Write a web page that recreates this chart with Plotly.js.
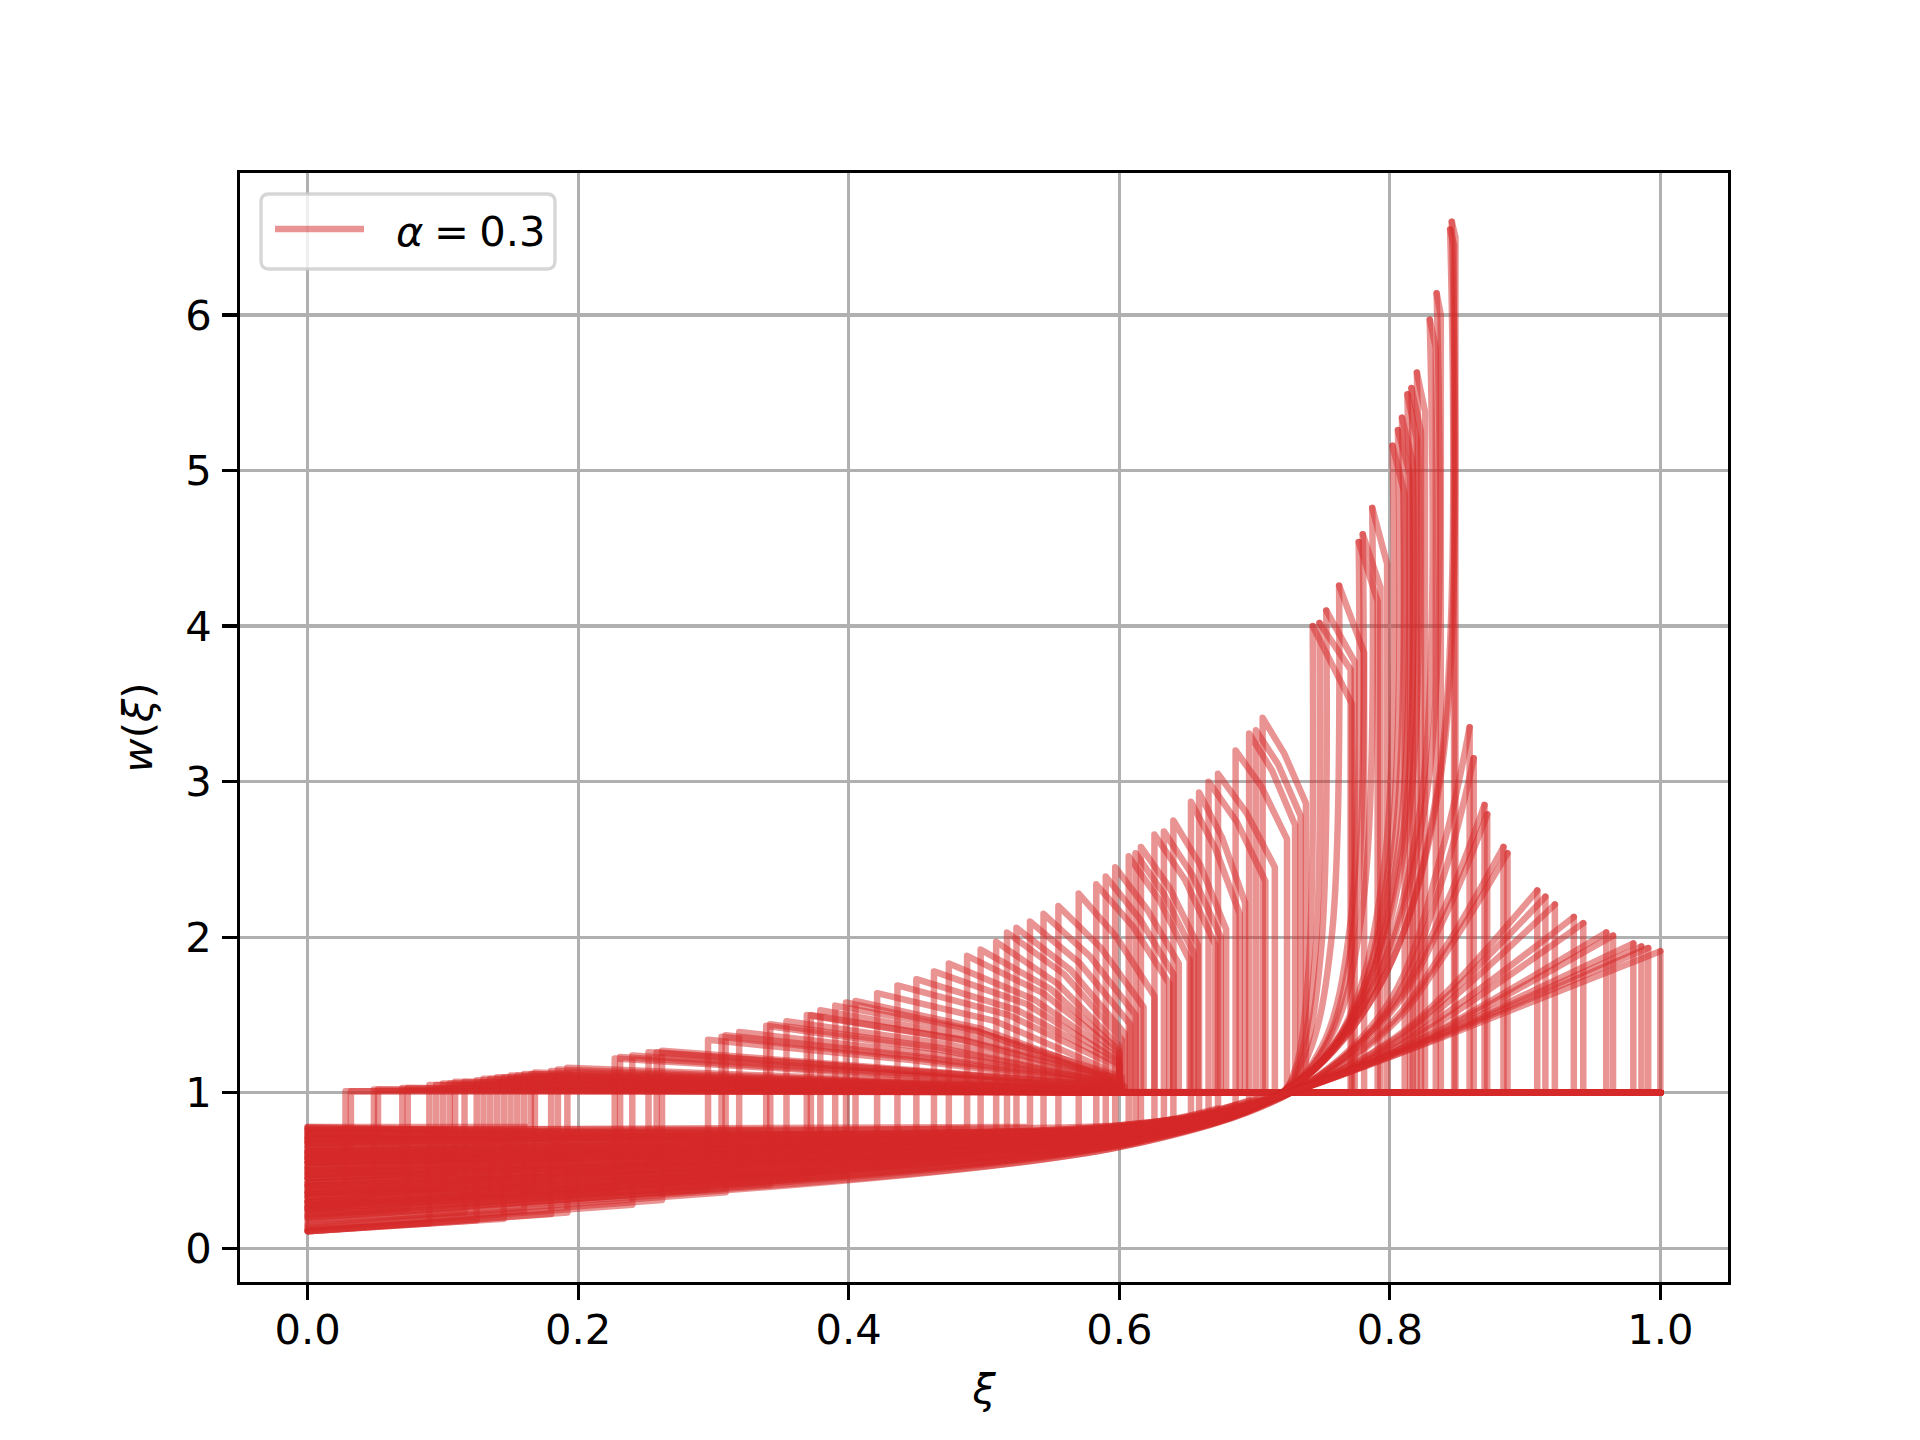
<!DOCTYPE html>
<html>
<head>
<meta charset="utf-8">
<script src="https://cdn.plot.ly/plotly-3.0.1.min.js"></script>
<style>
html, body { margin: 0; padding: 0; background: #ffffff; }
#chart { width: 1920px; height: 1440px; }
.scatterlayer path.js-line { stroke-linejoin: round !important; stroke-linecap: round !important; }
</style>
</head>
<body>
<div id="chart"></div>
<script>
// ---------------- data ----------------
// Arcs: lower branch from ξ=0, jump up at ξ=a, decreasing arc, drop back to w=1 at ξ=b.
const arcJumpXi = [0.028,0.032,0.049,0.052,0.070,0.074,0.090,0.095,0.100,0.105,0.109,0.116,0.125,0.130,0.135,0.140,0.145,0.150,0.155,0.160,0.165,0.168,0.180,0.185,0.192,0.227,0.231,0.240,0.252,0.258,0.262,
  0.296,0.306,0.309,0.319,0.339,0.342,0.354,0.369,0.372,0.379,0.390,0.398,0.405,0.421,0.436,0.450,0.463,0.474,0.4875,0.4975,0.509,0.517,0.524,0.534,0.544,0.555,0.570,0.583,0.590,0.597,
  0.607,0.612,0.616,0.626,0.633,0.640,0.653,0.659,0.666,0.673,0.686,0.696,0.701,0.706];
const arcJumpW = [1.01,1.01,1.02,1.02,1.03,1.03,1.05,1.05,1.06,1.06,1.07,1.07,1.08,1.09,1.09,1.10,1.10,1.11,1.11,1.12,1.12,1.13,1.14,1.15,1.16,1.22,1.23,1.24,1.26,1.26,1.27,
  1.34,1.36,1.37,1.39,1.43,1.44,1.46,1.50,1.50,1.53,1.56,1.58,1.59,1.64,1.69,1.73,1.78,1.83,1.88,1.92,1.97,2.03,2.06,2.10,2.15,2.20,2.28,2.34,2.39,2.45,
  2.52,2.54,2.58,2.66,2.68,2.75,2.87,2.93,3.00,3.05,3.20,3.31,3.33,3.41];
const arcStartW = [0.40,0.65,0.30,0.72,0.50,0.22,0.12,0.60,0.35,0.76,0.45,0.18,0.11,0.55,0.28,0.68,0.11,0.40,0.62,0.15,0.78,0.33,0.11,0.48,0.11,0.25,0.58,0.13,0.42,0.70,0.14,
  0.20,0.55,0.16,0.36,0.74,0.19,0.45,0.24,0.62,0.30,0.52,0.21,0.68,0.27,0.38,0.26,0.58,0.33,0.72,0.30,0.47,0.64,0.35,0.76,0.42,0.55,0.37,0.68,0.50,0.60,
  0.45,0.70,0.25,0.58,0.40,0.77,0.52,0.33,0.62,0.74,0.48,0.66,0.56,0.71];
const arcBendW = [null,null,null,null,null,null,null,null,null,null,null,null,null,null,null,null,null,null,null,null,null,null,null,null,null,null,null,null,null,null,null,
  null,null,null,null,null,null,null,null,null,null,null,null,null,null,null,null,null,null,null,null,null,null,null,null,null,null,null,null,null,null,
  0.71,0.77,0.66,0.735,0.70,0.79,0.725,0.68,0.745,0.78,0.715,0.76,0.735,0.775];
const arcLowW = [0.41,0.65,0.31,0.72,0.51,0.25,0.16,0.61,0.38,0.76,0.48,0.23,0.18,0.57,0.34,0.69,0.19,0.45,0.64,0.24,0.78,0.40,0.22,0.53,0.23,0.37,0.62,0.28,0.51,0.72,0.31,
  0.38,0.63,0.36,0.50,0.76,0.41,0.58,0.46,0.70,0.50,0.64,0.47,0.74,0.52,0.59,0.54,0.70,0.59,0.77,0.59,0.67,0.73,0.63,0.78,0.67,0.72,0.67,0.76,0.72,0.74,
  0.73,0.79,0.69,0.78,0.75,0.83,0.82,0.80,0.87,0.90,0.92,0.95,0.95,0.97];
const arcMidW = [1.006,1.006,1.011,1.011,1.016,1.016,1.028,1.028,1.034,1.034,1.04,1.04,1.046,1.052,1.052,1.058,1.058,1.064,1.064,1.07,1.07,1.076,1.082,1.088,1.094,1.13,1.135,1.14,1.155,1.155,1.16,
  1.21,1.22,1.23,1.25,1.28,1.29,1.31,1.34,1.34,1.36,1.39,1.40,1.41,1.46,1.50,1.53,1.57,1.60,1.64,1.67,1.70,1.76,1.79,1.83,1.88,1.93,2.00,2.07,2.12,2.18,
  2.24,2.27,2.32,2.37,2.40,2.47,2.57,2.64,2.74,2.80,2.97,3.07,3.11,3.18];
const arcDropXi = [0.590,0.592,0.594,0.596,0.598,0.600,0.588,0.590,0.592,0.594,0.596,0.598,0.600,0.602,0.588,0.590,0.592,0.594,0.596,0.598,0.600,0.602,0.588,0.590,0.592,0.594,0.596,0.598,0.600,0.602,0.604,
  0.596,0.598,0.600,0.602,0.590,0.592,0.594,0.596,0.598,0.600,0.602,0.590,0.592,0.596,0.600,0.600,0.600,0.600,0.600,0.600,0.600,0.602,0.604,0.608,0.612,0.618,0.626,0.637,0.640,0.644,
  0.652,0.655,0.658,0.671,0.675,0.679,0.689,0.693,0.708,0.715,0.724,0.730,0.734,0.738];
const arcDropW = [1.00,1.00,1.00,1.00,1.00,1.00,1.005,1.005,1.01,1.01,1.01,1.01,1.01,1.01,1.01,1.015,1.015,1.015,1.015,1.02,1.02,1.02,1.02,1.02,1.025,1.03,1.03,1.035,1.04,1.04,1.04,
  1.05,1.05,1.06,1.06,1.07,1.07,1.08,1.08,1.09,1.09,1.10,1.10,1.11,1.13,1.16,1.18,1.20,1.22,1.25,1.27,1.30,1.34,1.38,1.44,1.50,1.55,1.62,1.70,1.76,1.83,
  1.85,1.90,1.95,1.95,2.00,2.05,2.15,2.22,2.36,2.45,2.63,2.72,2.78,2.86];

// Spikes: lower branch curves up steeply to a peak, short decline, drop to w=1.
const spikeStartW = [0.55,0.30,0.72,0.42,0.62,0.22,0.50,0.77,0.35,0.66,0.27,0.58,0.44,0.74,0.32,0.60,0.48];
const spikeBendW = [0.72,0.67,0.78,0.70,0.745,0.65,0.72,0.79,0.685,0.76,0.665,0.735,0.71,0.78,0.68,0.74,0.715];
const spikeKnee1Xi = [0.730,0.733,0.735,0.740,0.750,0.752,0.756,0.765,0.767,0.769,0.771,0.773,0.775,0.780,0.783,0.790,0.790];
const spikeKnee1W = [1.15,1.20,1.20,1.25,1.30,1.30,1.35,1.40,1.40,1.45,1.45,1.50,1.50,1.55,1.60,1.65,1.65];
const spikeKnee2Xi = [0.740,0.745,0.749,0.757,0.771,0.774,0.780,0.795,0.799,0.802,0.806,0.809,0.813,0.822,0.827,0.836,0.837];
const spikeKnee2W = [1.80,1.90,1.90,2.00,2.10,2.10,2.20,2.40,2.45,2.50,2.55,2.60,2.70,2.80,2.90,3.00,3.00];
const spikePeakXi = [0.743,0.748,0.753,0.7625,0.777,0.780,0.787,0.802,0.806,0.809,0.813,0.816,0.820,0.8295,0.8346,0.8446,0.8458];
const spikePeakW = [4.00,4.02,4.10,4.26,4.54,4.59,4.76,5.16,5.26,5.34,5.49,5.53,5.63,5.97,6.14,6.55,6.60];
const spikeDropXi = [0.772,0.771,0.774,0.781,0.791,0.793,0.798,0.811,0.815,0.817,0.820,0.823,0.826,0.834,0.8377,0.8475,0.8485];
const spikeDropW = [3.50,3.72,3.77,3.83,4.16,4.25,4.40,4.85,4.97,5.05,5.20,5.25,5.38,5.79,6.00,6.45,6.50];

// Fan: smooth rise from the meeting point to a peak, then drop to w=1.
const fanStartW = [0.40,0.68,0.24,0.53,0.78,0.36,0.64,0.20,0.46,0.70,0.29,0.57,0.75,0.38,0.61,0.26,0.52];
const fanBendW = [0.70,0.765,0.66,0.725,0.79,0.69,0.75,0.65,0.71,0.77,0.67,0.735,0.78,0.695,0.745,0.665,0.72];
const fanW80 = [1.59,1.55,1.53,1.51,1.44,1.42,1.33,1.32,1.30,1.28,1.27,1.25,1.25,1.24,1.24,1.23,1.23];
const fanW84 = [2.60,2.40,2.18,2.12,1.92,1.88,1.63,1.60,1.56,1.50,1.47,1.42,1.41,1.39,1.38,1.37,1.36];
const fanPeakXi = [0.859,0.862,0.870,0.872,0.884,0.887,0.909,0.915,0.922,0.936,0.943,0.960,0.965,0.980,0.986,0.991,1.000];
const fanPeakW = [3.35,3.15,2.85,2.79,2.58,2.54,2.30,2.26,2.21,2.13,2.09,2.03,2.01,1.96,1.94,1.93,1.91];

const bendXi = 0.6;                           // knot of the lower branches
const spikeMeetXi = 0.719, spikeMeetW = 0.99; // where spike branches cross w≈1
const fanMeetXi = 0.729, fanMeetW = 1.01;     // where fan branches cross w≈1
const fanKnotXi = [0.80, 0.84];
const baseW = 1.0;                            // level after the drop
const endXi = 1.0;

const xTickVals = [0, 0.2, 0.4, 0.6, 0.8, 1.0];
const xTickText = ['0.0', '0.2', '0.4', '0.6', '0.8', '1.0'];
const yTickVals = [0, 1, 2, 3, 4, 5, 6];
const yTickText = ['0', '1', '2', '3', '4', '5', '6'];
const legendLabel = '<i>α</i>\u2005=\u20050.3';

// ---------------- styling ----------------
const RED = 'rgba(214,39,40,0.5)';
const LW = 6.5;
const FONT = 'DejaVu Sans';
const FS = 41.67;
const W = 1920, H = 1440;
const M = { l: 240, r: 192, t: 173, b: 158 };
const PW = W - M.l - M.r, PH = H - M.t - M.b;
const px2x = p => (p - M.l) / PW;
const px2y = p => (H - M.b - p) / PH;

const traces = [];
function addLine(xs, ys, shape) {
  traces.push({
    type: 'scatter', mode: 'lines', x: xs, y: ys,
    line: { color: RED, width: LW, shape: shape || 'linear', smoothing: 1 },
    showlegend: false, hoverinfo: 'skip', name: 'α = 0.3'
  });
}

for (let i = 0; i < arcJumpXi.length; i++) {
  const a = arcJumpXi[i], b = arcDropXi[i], m = (a + b) / 2;
  const upX = [a, a, m, b, b, endXi];
  const upY = [arcLowW[i], arcJumpW[i], arcMidW[i], arcDropW[i], baseW, baseW];
  if (arcBendW[i] === null) {
    addLine([0].concat(upX), [arcStartW[i]].concat(upY));
  } else {
    addLine([0, bendXi, a], [arcStartW[i], arcBendW[i], arcLowW[i]], 'spline');
    addLine(upX, upY);
  }
}
for (let i = 0; i < spikePeakXi.length; i++) {
  addLine([0, bendXi, spikeMeetXi, spikeKnee1Xi[i], spikeKnee2Xi[i], spikePeakXi[i]],
          [spikeStartW[i], spikeBendW[i], spikeMeetW, spikeKnee1W[i], spikeKnee2W[i], spikePeakW[i]], 'spline');
  addLine([spikePeakXi[i], spikeDropXi[i], spikeDropXi[i], endXi],
          [spikePeakW[i], spikeDropW[i], baseW, baseW]);
}
for (let i = 0; i < fanPeakXi.length; i++) {
  addLine([0, bendXi, fanMeetXi, fanKnotXi[0], fanKnotXi[1], fanPeakXi[i]],
          [fanStartW[i], fanBendW[i], fanMeetW, fanW80[i], fanW84[i], fanPeakW[i]], 'spline');
  addLine([fanPeakXi[i], fanPeakXi[i], endXi], [fanPeakW[i], baseW, baseW]);
}

// legend frame (rounded), sample line, label
const fx0 = px2x(261), fx1 = px2x(555), fy0 = px2y(269), fy1 = px2y(194);
const rx = 8 / PW, ry = 8 / PH;
const framePath = `M${fx0 + rx},${fy1} L${fx1 - rx},${fy1} Q${fx1},${fy1} ${fx1},${fy1 - ry} L${fx1},${fy0 + ry} Q${fx1},${fy0} ${fx1 - rx},${fy0} L${fx0 + rx},${fy0} Q${fx0},${fy0} ${fx0},${fy0 + ry} L${fx0},${fy1 - ry} Q${fx0},${fy1} ${fx0 + rx},${fy1} Z`;

const axisCommon = {
  showgrid: true, gridcolor: '#b0b0b0', gridwidth: 3.3,
  showline: true, linecolor: '#000000', linewidth: 3.3, mirror: true,
  ticks: 'outside', ticklen: 14.6, tickwidth: 3.3, tickcolor: '#000000',
  zeroline: false,
  tickfont: { family: FONT, size: FS, color: '#000000' }
};

const layout = {
  width: W, height: H, autosize: false,
  margin: { l: M.l, r: M.r, t: M.t, b: M.b, pad: 0 },
  paper_bgcolor: '#ffffff', plot_bgcolor: '#ffffff',
  showlegend: false,
  font: { family: FONT, size: FS, color: '#000000' },
  xaxis: Object.assign({}, axisCommon, {
    range: [-0.05, 1.05], tickmode: 'array', tickvals: xTickVals, ticktext: xTickText,
    ticklabelstandoff: -6,
    title: { text: '<i>ξ</i>', font: { family: FONT, size: FS, color: '#000000' }, standoff: 22 }
  }),
  yaxis: Object.assign({}, axisCommon, {
    range: [-0.217, 6.913], tickmode: 'array', tickvals: yTickVals, ticktext: yTickText,
    ticklabelstandoff: 2,
    title: { text: '<i>w</i>(<i>ξ</i>)', font: { family: FONT, size: FS, color: '#000000' }, standoff: 20 }
  }),
  shapes: [
    { type: 'path', xref: 'paper', yref: 'paper', path: framePath,
      fillcolor: 'rgba(255,255,255,0.8)', line: { color: 'rgba(204,204,204,0.8)', width: 3.3 }, layer: 'above' },
    { type: 'line', xref: 'paper', yref: 'paper', x0: px2x(275), x1: px2x(364), y0: px2y(229), y1: px2y(229),
      line: { color: RED, width: LW }, layer: 'above' }
  ],
  annotations: [
    { xref: 'paper', yref: 'paper', x: px2x(394), y: px2y(231), xanchor: 'left', yanchor: 'middle',
      text: legendLabel, showarrow: false, font: { family: FONT, size: FS, color: '#000000' } }
  ]
};

Plotly.newPlot('chart', traces, layout, { displayModeBar: false, staticPlot: true });
</script>
</body>
</html>
